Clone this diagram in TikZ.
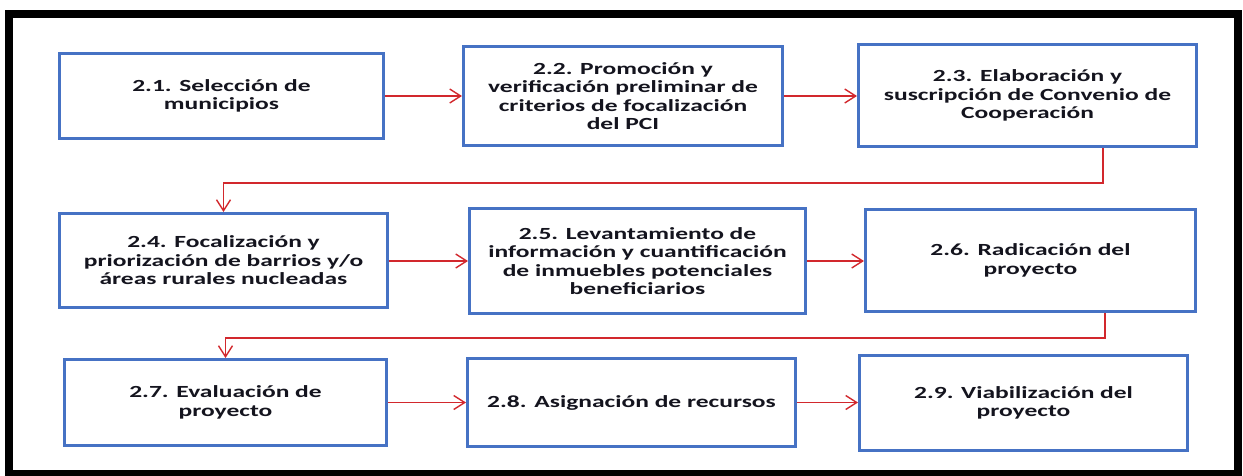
\documentclass[tikz,border=0pt]{standalone}
\usepackage{fontspec}
\setmainfont{Carlito}[FakeStretch=1.5]
\usetikzlibrary{arrows.meta}
\definecolor{boxblue}{RGB}{70,114,196}
\definecolor{arrred}{RGB}{210,40,45}
\definecolor{txt}{RGB}{20,20,30}
\tikzset{
  box/.style={draw=boxblue, line width=3pt, align=center, inner sep=0pt,
    text=txt, font=\fontsize{17}{18.5}\selectfont\bfseries},
  arr/.style={draw=arrred, line width=1.6pt, -{Straight Barb[length=11pt,width=14pt,line width=1.4pt]}}
}
\begin{document}
\begin{tikzpicture}[x=1pt,y=-1pt]
\useasboundingbox (0,0) rectangle (1243,475);
\fill[white] (0,0) rectangle (1243,475);
\draw[line width=8pt] (9,13.5) rectangle (1238,473.5);

\node[box, minimum width=324pt, minimum height=85pt] (b1) at (221.5,96) {2.1. Selección de\\municipios};
\node[box, minimum width=319pt, minimum height=99pt] (b2) at (623,96) {2.2. Promoción y\\verificación preliminar de\\criterios de focalización\\del PCI};
\node[box, minimum width=338pt, minimum height=102pt] (b3) at (1027.5,95.5) {2.3. Elaboración y\\suscripción de Convenio de\\Cooperación};
\node[box, minimum width=328pt, minimum height=94pt] (b4) at (223.5,260.5) {2.4. Focalización y\\priorización de barrios y/o\\áreas rurales nucleadas};
\node[box, minimum width=336pt, minimum height=105pt] (b5) at (637.5,261) {2.5. Levantamiento de\\información y cuantificación\\de inmuebles potenciales\\beneficiarios};
\node[box, minimum width=330pt, minimum height=102pt] (b6) at (1030.5,260.5) {2.6. Radicación del\\proyecto};
\node[box, minimum width=322pt, minimum height=86pt] (b7) at (225.5,402.5) {2.7. Evaluación de\\proyecto};
\node[box, minimum width=328pt, minimum height=88pt] (b8) at (631.5,402.5) {2.8. Asignación de recursos};
\node[box, minimum width=328pt, minimum height=95pt] (b9) at (1023.5,403) {2.9. Viabilización del\\proyecto};

\coordinate (k1) at (1103,183);
\coordinate (k2) at (1105,338);

\draw[arr] (b1.east) -- (b1.east -| b2.west);
\draw[arr] (b2.east) -- (b2.east -| b3.west);
\draw[arr] (k1 |- b3.south) -- (k1) -| (b4.north);
\draw[arr] (b4.east |- b5.west) -- (b5.west);
\draw[arr] (b5.east) -- (b5.east -| b6.west);
\draw[arr] (k2 |- b6.south) -- (k2) -| (b7.north);
\draw[arr] (b7.east) -- (b7.east -| b8.west);
\draw[arr] (b8.east) -- (b8.east -| b9.west);
\end{tikzpicture}
\end{document}
